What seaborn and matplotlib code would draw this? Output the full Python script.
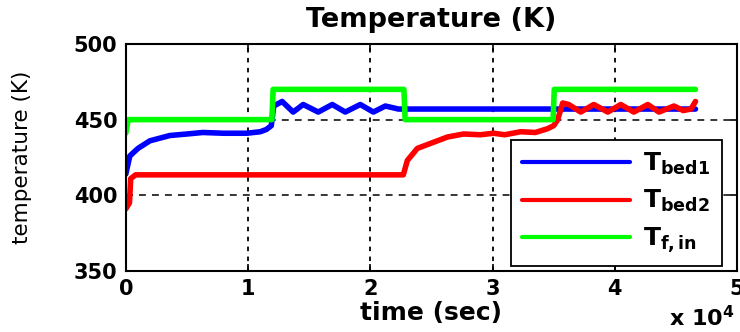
import matplotlib
matplotlib.use("Agg")
import matplotlib.pyplot as plt
import seaborn as sns
import numpy as np

# ---- data (time in seconds, temperature in K) ----
t_bed1 = [0, 80, 330, 1000, 1970, 3600, 5000, 6300, 8000, 9900, 11000, 11500, 11900,
          12100, 12790, 13690, 14510, 15740, 16890, 17950, 19180, 20250, 21230, 22300, 46600]
T_bed1 = [414, 417, 426, 431, 436, 439.5, 440.5, 441.5, 441, 441, 442, 443.5, 446,
          459, 462, 455, 460, 455, 460, 455, 460, 455, 459, 457, 457]

t_bed2 = [0, 300, 400, 800, 22700, 23030, 23850, 25160, 26310, 27620, 29000, 30080, 31000,
          32300, 33500, 34500, 35000, 35330, 35740, 36230, 37210, 38280, 39430, 40490,
          41560, 42700, 43610, 44840, 45600, 46230, 46600]
T_bed2 = [391, 395, 411, 413.5, 413.5, 423, 431, 435, 438.5, 440.5, 440, 441, 440,
          442, 441.5, 444, 446, 450, 461, 460, 455, 460, 455, 460,
          455, 460, 455, 459, 456, 457, 462]

t_fin = [0, 200, 11950, 12050, 22750, 22850, 34950, 35050, 46600]
T_fin = [441, 450, 450, 470, 470, 450, 450, 470, 470]

labels = [r'$\mathbf{T_{bed1}}$', r'$\mathbf{T_{bed2}}$', r'$\mathbf{T_{f,in}}$']
colors = ['#0000ff', '#ff0000', '#00ff00']
xticks = [0, 10000, 20000, 30000, 40000, 50000]
xticklabels = ['0', '1', '2', '3', '4', '5']
yticks = [350, 400, 450, 500]

sns.set_style("white")
plt.rcParams['font.family'] = ['DejaVu Sans']
plt.rcParams['mathtext.fontset'] = 'dejavusans'
plt.rcParams['text.color'] = 'black'
plt.rcParams['axes.labelcolor'] = 'black'
plt.rcParams['xtick.color'] = 'black'
plt.rcParams['ytick.color'] = 'black'

fig = plt.figure(figsize=(7.4, 3.32), dpi=100)
ax = fig.add_axes([0.170, 0.184, 0.826, 0.6835])

for t, T, lab, c in zip([t_bed1, t_bed2, t_fin], [T_bed1, T_bed2, T_fin], labels, colors):
    sns.lineplot(x=t, y=T, ax=ax, color=c, linewidth=4, label=lab,
                 estimator=None, sort=False)

ax.set_xlim(0, 50000)
ax.set_ylim(350, 500)
ax.set_xticks(xticks)
ax.set_xticklabels(xticklabels)
ax.set_yticks(yticks)

for v in xticks[1:-1]:
    ax.axvline(v, color='black', lw=1.3, ls=(0, (2.5, 3)), zorder=0)
for v in yticks[1:-1]:
    ax.axhline(v, color='black', lw=1.1, ls=(0, (4.5, 4)), zorder=0)

for s in ax.spines.values():
    s.set_color('black')
    s.set_linewidth(1.5)
    s.set_visible(True)

ax.tick_params(direction='in', length=5, width=1.2, colors='black',
               top=True, right=True, bottom=True, left=True, labelsize=15, pad=6)
for lbl in ax.get_xticklabels() + ax.get_yticklabels():
    lbl.set_fontweight('bold')

ax.set_title('Temperature (K)', fontsize=19.5, fontweight='bold', pad=12)
ax.set_xlabel('time (sec)', fontsize=18, fontweight='bold', labelpad=1)
ax.set_ylabel('temperature (K)', fontsize=15.5, labelpad=30)

leg = ax.legend(loc='lower right', bbox_to_anchor=(0.975, 0.02), borderaxespad=0,
                fontsize=18, handlelength=4.3, fancybox=False, framealpha=1,
                edgecolor='black', labelspacing=0.45, borderpad=0.45, handletextpad=0.55)
leg.get_frame().set_linewidth(1.3)
for line in leg.get_lines():
    line.set_linewidth(3)

fig.text(0.993, 0.006, r'x 10$^{\mathbf{4}}$', ha='right', va='bottom', fontsize=16,
         fontweight='bold')

fig.savefig('out.png', dpi=100, facecolor='white')
